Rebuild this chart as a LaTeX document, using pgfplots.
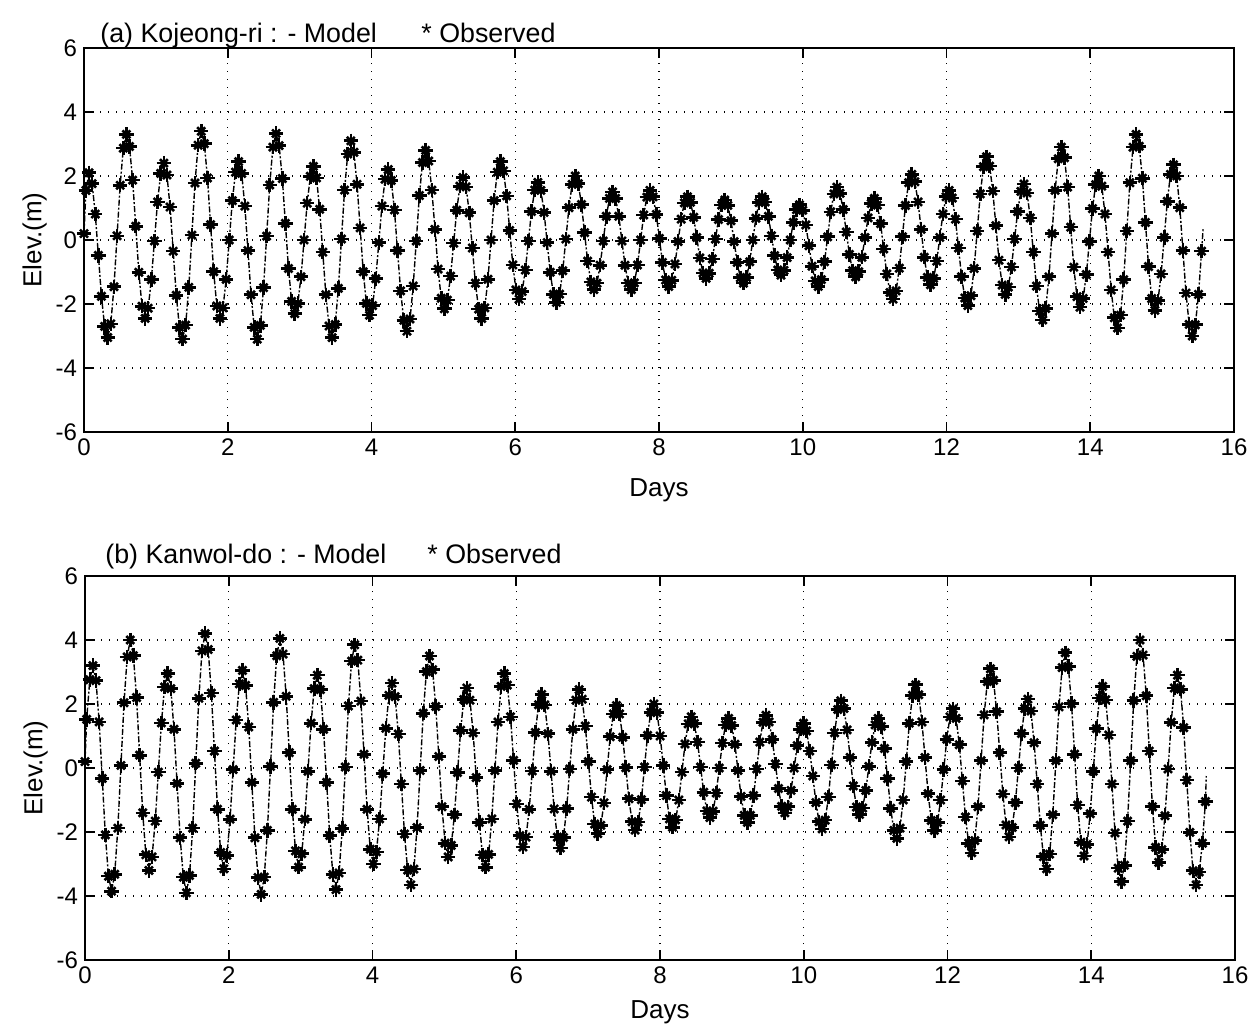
\documentclass[border=0pt]{standalone}
\usepackage{fontspec}
\setmainfont{Liberation Sans}
\usepackage{pgfplots}
\pgfplotsset{compat=1.18}
\usepackage{pgfplotstable}

\pgfplotstableread[row sep=\\]{
t h\\
0.000 0.20\\ 0.027 1.55\\
0.070 2.10\\ 0.113 1.76\\ 0.157 0.81\\ 0.200 -0.48\\ 0.243 -1.76\\ 0.287 -2.70\\
0.330 -3.05\\ 0.373 -2.62\\ 0.417 -1.46\\ 0.460 0.13\\ 0.503 1.71\\ 0.547 2.87\\
0.590 3.30\\ 0.633 2.92\\ 0.677 1.87\\ 0.720 0.43\\ 0.763 -1.01\\ 0.807 -2.07\\
0.850 -2.45\\ 0.893 -2.13\\ 0.937 -1.24\\ 0.980 -0.03\\ 1.023 1.19\\ 1.067 2.08\\
1.111 2.40\\ 1.154 2.03\\ 1.198 1.03\\ 1.241 -0.35\\ 1.284 -1.73\\ 1.328 -2.73\\
1.371 -3.10\\ 1.414 -2.66\\ 1.458 -1.48\\ 1.501 0.15\\ 1.544 1.78\\ 1.588 2.96\\
1.631 3.40\\ 1.674 3.01\\ 1.718 1.94\\ 1.761 0.48\\ 1.804 -0.99\\ 1.848 -2.06\\
1.891 -2.45\\ 1.934 -2.12\\ 1.978 -1.23\\ 2.021 0.00\\ 2.064 1.23\\ 2.108 2.12\\
2.151 2.45\\ 2.194 2.08\\ 2.238 1.06\\ 2.281 -0.33\\ 2.324 -1.71\\ 2.368 -2.73\\
2.411 -3.10\\ 2.454 -2.67\\ 2.498 -1.49\\ 2.541 0.12\\ 2.584 1.72\\ 2.628 2.90\\
2.672 3.33\\ 2.715 2.95\\ 2.759 1.92\\ 2.802 0.52\\ 2.845 -0.89\\ 2.889 -1.92\\
2.932 -2.30\\ 2.975 -1.99\\ 3.019 -1.15\\ 3.062 0.00\\ 3.105 1.15\\ 3.149 1.99\\
3.192 2.30\\ 3.235 1.94\\ 3.279 0.96\\ 3.322 -0.38\\ 3.365 -1.71\\ 3.409 -2.69\\
3.452 -3.05\\ 3.495 -2.64\\ 3.539 -1.51\\ 3.582 0.03\\ 3.625 1.56\\ 3.669 2.69\\
3.712 3.10\\ 3.755 2.74\\ 3.799 1.74\\ 3.842 0.38\\ 3.885 -0.99\\ 3.929 -1.98\\
3.972 -2.35\\ 4.015 -2.05\\ 4.059 -1.21\\ 4.102 -0.08\\ 4.145 1.06\\ 4.189 1.90\\
4.232 2.20\\ 4.275 1.86\\ 4.319 0.94\\ 4.362 -0.33\\ 4.405 -1.59\\ 4.449 -2.51\\
4.493 -2.85\\ 4.536 -2.47\\ 4.580 -1.44\\ 4.623 -0.03\\ 4.666 1.39\\ 4.710 2.42\\
4.753 2.80\\ 4.796 2.47\\ 4.840 1.56\\ 4.883 0.33\\ 4.926 -0.91\\ 4.970 -1.82\\
5.013 -2.15\\ 5.056 -1.88\\ 5.100 -1.13\\ 5.143 -0.10\\ 5.186 0.93\\ 5.230 1.68\\
5.273 1.95\\ 5.316 1.66\\ 5.360 0.85\\ 5.403 -0.25\\ 5.446 -1.35\\ 5.490 -2.16\\
5.533 -2.45\\ 5.576 -2.12\\ 5.620 -1.23\\ 5.663 0.00\\ 5.706 1.23\\ 5.750 2.12\\
5.793 2.45\\ 5.836 2.16\\ 5.880 1.38\\ 5.923 0.30\\ 5.966 -0.78\\ 6.010 -1.56\\
6.053 -1.85\\ 6.096 -1.61\\ 6.140 -0.94\\ 6.183 -0.03\\ 6.226 0.89\\ 6.270 1.56\\
6.314 1.80\\ 6.357 1.55\\ 6.401 0.86\\ 6.444 -0.08\\ 6.487 -1.01\\ 6.531 -1.70\\
6.574 -1.95\\ 6.617 -1.69\\ 6.661 -0.96\\ 6.704 0.03\\ 6.747 1.01\\ 6.791 1.74\\
6.834 2.00\\ 6.877 1.76\\ 6.921 1.11\\ 6.964 0.23\\ 7.007 -0.66\\ 7.051 -1.31\\
7.094 -1.55\\ 7.137 -1.35\\ 7.181 -0.79\\ 7.224 -0.03\\ 7.267 0.74\\ 7.311 1.30\\
7.354 1.50\\ 7.397 1.30\\ 7.441 0.74\\ 7.484 -0.03\\ 7.527 -0.79\\ 7.571 -1.35\\
7.614 -1.55\\ 7.657 -1.34\\ 7.701 -0.78\\ 7.744 0.00\\ 7.787 0.78\\ 7.831 1.34\\
7.875 1.55\\ 7.918 1.35\\ 7.962 0.80\\ 8.005 0.05\\ 8.048 -0.70\\ 8.092 -1.25\\
8.135 -1.45\\ 8.178 -1.26\\ 8.222 -0.75\\ 8.265 -0.05\\ 8.308 0.65\\ 8.352 1.16\\
8.395 1.35\\ 8.438 1.18\\ 8.482 0.71\\ 8.525 0.08\\ 8.568 -0.56\\ 8.612 -1.03\\
8.655 -1.20\\ 8.698 -1.04\\ 8.742 -0.59\\ 8.785 0.03\\ 8.828 0.64\\ 8.872 1.09\\
8.915 1.25\\ 8.958 1.08\\ 9.002 0.60\\ 9.045 -0.05\\ 9.088 -0.70\\ 9.132 -1.18\\
9.175 -1.35\\ 9.218 -1.17\\ 9.262 -0.68\\ 9.305 0.00\\ 9.348 0.68\\ 9.392 1.17\\
9.435 1.35\\ 9.478 1.19\\ 9.522 0.74\\ 9.565 0.13\\ 9.608 -0.49\\ 9.652 -0.94\\
9.696 -1.10\\ 9.739 -0.95\\ 9.783 -0.55\\ 9.826 0.00\\ 9.869 0.55\\ 9.913 0.95\\
9.956 1.10\\ 9.999 0.93\\ 10.043 0.47\\ 10.086 -0.18\\ 10.129 -0.82\\ 10.173 -1.28\\
10.216 -1.45\\ 10.259 -1.24\\ 10.303 -0.68\\ 10.346 0.10\\ 10.389 0.88\\ 10.433 1.44\\
10.476 1.65\\ 10.519 1.46\\ 10.563 0.95\\ 10.606 0.25\\ 10.649 -0.45\\ 10.693 -0.96\\
10.736 -1.15\\ 10.779 -0.99\\ 10.823 -0.54\\ 10.866 0.08\\ 10.909 0.69\\ 10.953 1.14\\
10.996 1.30\\ 11.039 1.09\\ 11.083 0.51\\ 11.126 -0.28\\ 11.169 -1.06\\ 11.213 -1.64\\
11.256 -1.85\\ 11.299 -1.59\\ 11.343 -0.88\\ 11.386 0.10\\ 11.429 1.08\\ 11.473 1.79\\
11.517 2.05\\ 11.560 1.82\\ 11.604 1.19\\ 11.647 0.33\\ 11.690 -0.54\\ 11.734 -1.17\\
11.777 -1.40\\ 11.820 -1.20\\ 11.864 -0.66\\ 11.907 0.08\\ 11.950 0.81\\ 11.994 1.35\\
12.037 1.55\\ 12.080 1.31\\ 12.124 0.65\\ 12.167 -0.25\\ 12.210 -1.15\\ 12.254 -1.81\\
12.297 -2.05\\ 12.340 -1.74\\ 12.384 -0.89\\ 12.427 0.28\\ 12.470 1.44\\ 12.514 2.29\\
12.557 2.60\\ 12.600 2.31\\ 12.644 1.53\\ 12.687 0.45\\ 12.730 -0.63\\ 12.774 -1.41\\
12.817 -1.70\\ 12.860 -1.47\\ 12.904 -0.84\\ 12.947 0.03\\ 12.990 0.89\\ 13.034 1.52\\
13.078 1.75\\ 13.121 1.47\\ 13.165 0.69\\ 13.208 -0.38\\ 13.251 -1.44\\ 13.295 -2.22\\
13.338 -2.50\\ 13.381 -2.14\\ 13.425 -1.15\\ 13.468 0.20\\ 13.511 1.55\\ 13.555 2.54\\
13.598 2.90\\ 13.641 2.57\\ 13.685 1.65\\ 13.728 0.40\\ 13.771 -0.85\\ 13.815 -1.77\\
13.858 -2.10\\ 13.901 -1.83\\ 13.945 -1.08\\ 13.988 -0.05\\ 14.031 0.98\\ 14.075 1.73\\
14.118 2.00\\ 14.161 1.68\\ 14.205 0.81\\ 14.248 -0.38\\ 14.291 -1.56\\ 14.335 -2.43\\
14.378 -2.75\\ 14.421 -2.35\\ 14.465 -1.24\\ 14.508 0.28\\ 14.551 1.79\\ 14.595 2.90\\
14.638 3.30\\ 14.681 2.93\\ 14.725 1.93\\ 14.768 0.55\\ 14.811 -0.83\\ 14.855 -1.83\\
14.899 -2.20\\ 14.942 -1.90\\ 14.986 -1.06\\ 15.029 0.08\\ 15.072 1.21\\ 15.116 2.05\\
15.159 2.35\\ 15.202 2.00\\ 15.246 1.01\\ 15.289 -0.33\\ 15.332 -1.66\\ 15.376 -2.64\\
15.419 -3.00\\ 15.462 -2.65\\ 15.506 -1.70\\ 15.549 -0.35\\
}\dataA

\pgfplotstableread[row sep=\\]{
t h\\
0.000 0.20\\ 0.023 1.52\\ 0.067 2.76\\
0.110 3.20\\ 0.153 2.73\\ 0.197 1.44\\ 0.240 -0.33\\ 0.283 -2.09\\ 0.327 -3.38\\
0.370 -3.85\\ 0.413 -3.32\\ 0.457 -1.88\\ 0.500 0.08\\ 0.543 2.04\\ 0.587 3.47\\
0.630 4.00\\ 0.673 3.51\\ 0.717 2.20\\ 0.760 0.40\\ 0.803 -1.40\\ 0.847 -2.71\\
0.890 -3.20\\ 0.933 -2.78\\ 0.977 -1.66\\ 1.020 -0.13\\ 1.063 1.41\\ 1.107 2.53\\
1.151 2.95\\ 1.194 2.48\\ 1.238 1.21\\ 1.281 -0.48\\ 1.324 -2.18\\ 1.368 -3.41\\
1.411 -3.90\\ 1.454 -3.36\\ 1.498 -1.88\\ 1.541 0.15\\ 1.584 2.18\\ 1.628 3.66\\
1.671 4.20\\ 1.714 3.70\\ 1.758 2.34\\ 1.801 0.53\\ 1.844 -1.29\\ 1.888 -2.64\\
1.931 -3.15\\ 1.974 -2.73\\ 2.018 -1.60\\ 2.061 -0.05\\ 2.104 1.50\\ 2.148 2.63\\
2.191 3.05\\ 2.234 2.58\\ 2.278 1.28\\ 2.321 -0.45\\ 2.364 -2.18\\ 2.408 -3.42\\
2.451 -3.95\\ 2.494 -3.41\\ 2.538 -1.95\\ 2.581 0.05\\ 2.624 2.05\\ 2.668 3.51\\
2.712 4.05\\ 2.755 3.56\\ 2.799 2.24\\ 2.842 0.48\\ 2.885 -1.29\\ 2.929 -2.59\\
2.972 -3.10\\ 3.015 -2.68\\ 3.059 -1.60\\ 3.102 -0.10\\ 3.145 1.40\\ 3.189 2.48\\
3.232 2.90\\ 3.275 2.45\\ 3.319 1.21\\ 3.362 -0.45\\ 3.405 -2.11\\ 3.449 -3.33\\
3.492 -3.80\\ 3.535 -3.28\\ 3.579 -1.89\\ 3.622 0.03\\ 3.665 1.94\\ 3.709 3.34\\
3.752 3.85\\ 3.795 3.37\\ 3.839 2.09\\ 3.882 0.43\\ 3.925 -1.29\\ 3.969 -2.54\\
4.012 -3.00\\ 4.055 -2.62\\ 4.099 -1.59\\ 4.142 -0.18\\ 4.185 1.24\\ 4.229 2.27\\
4.272 2.65\\ 4.315 2.23\\ 4.359 1.06\\ 4.402 -0.50\\ 4.445 -2.06\\ 4.489 -3.19\\
4.533 -3.65\\ 4.576 -3.16\\ 4.620 -1.86\\ 4.663 -0.08\\ 4.706 1.71\\ 4.750 3.01\\
4.793 3.50\\ 4.836 3.07\\ 4.880 1.92\\ 4.923 0.36\\ 4.966 -1.21\\ 5.010 -2.35\\
5.053 -2.78\\ 5.096 -2.42\\ 5.140 -1.46\\ 5.183 -0.14\\ 5.226 1.18\\ 5.270 2.14\\
5.313 2.50\\ 5.356 2.12\\ 5.400 1.10\\ 5.443 -0.30\\ 5.486 -1.70\\ 5.530 -2.72\\
5.573 -3.10\\ 5.616 -2.70\\ 5.660 -1.59\\ 5.703 -0.08\\ 5.746 1.44\\ 5.790 2.55\\
5.833 2.95\\ 5.876 2.59\\ 5.920 1.60\\ 5.963 0.24\\ 6.006 -1.12\\ 6.050 -2.11\\
6.093 -2.47\\ 6.136 -2.16\\ 6.180 -1.29\\ 6.223 -0.09\\ 6.266 1.11\\ 6.310 1.98\\
6.354 2.30\\ 6.397 1.97\\ 6.441 1.07\\ 6.484 -0.10\\ 6.527 -1.28\\ 6.571 -2.16\\
6.614 -2.50\\ 6.657 -2.17\\ 6.701 -1.27\\ 6.744 -0.03\\ 6.787 1.21\\ 6.831 2.12\\
6.874 2.45\\ 6.917 2.15\\ 6.961 1.31\\ 7.004 0.20\\ 7.047 -0.91\\ 7.091 -1.75\\
7.134 -2.05\\ 7.177 -1.79\\ 7.221 -1.09\\ 7.264 -0.05\\ 7.307 0.98\\ 7.351 1.69\\
7.394 1.95\\ 7.437 1.69\\ 7.481 0.96\\ 7.524 0.01\\ 7.567 -0.96\\ 7.611 -1.68\\
7.654 -1.94\\ 7.697 -1.69\\ 7.741 -0.99\\ 7.784 0.03\\ 7.827 1.02\\ 7.871 1.74\\
7.915 2.00\\ 7.958 1.73\\ 8.002 1.00\\ 8.045 0.08\\ 8.088 -0.86\\ 8.132 -1.59\\
8.175 -1.85\\ 8.218 -1.62\\ 8.262 -1.00\\ 8.305 -0.13\\ 8.348 0.75\\ 8.392 1.38\\
8.435 1.60\\ 8.478 1.39\\ 8.522 0.81\\ 8.565 0.03\\ 8.608 -0.76\\ 8.652 -1.34\\
8.695 -1.55\\ 8.738 -1.35\\ 8.782 -0.78\\ 8.825 0.00\\ 8.868 0.78\\ 8.912 1.35\\
8.955 1.55\\ 8.998 1.33\\ 9.042 0.74\\ 9.085 -0.08\\ 9.128 -0.89\\ 9.172 -1.48\\
9.215 -1.70\\ 9.258 -1.48\\ 9.302 -0.86\\ 9.345 -0.03\\ 9.388 0.81\\ 9.432 1.43\\
9.475 1.65\\ 9.518 1.44\\ 9.562 0.89\\ 9.605 0.13\\ 9.648 -0.64\\ 9.692 -1.20\\
9.736 -1.40\\ 9.779 -1.21\\ 9.823 -0.70\\ 9.866 0.00\\ 9.909 0.70\\ 9.953 1.21\\
9.996 1.40\\ 10.039 1.16\\ 10.083 0.53\\ 10.126 -0.25\\ 10.169 -1.08\\ 10.213 -1.68\\
10.256 -1.90\\ 10.299 -1.63\\ 10.343 -0.90\\ 10.386 0.10\\ 10.429 1.10\\ 10.473 1.83\\
10.516 2.10\\ 10.559 1.86\\ 10.603 1.19\\ 10.646 0.33\\ 10.689 -0.56\\ 10.733 -1.22\\
10.776 -1.45\\ 10.819 -1.25\\ 10.863 -0.70\\ 10.906 0.05\\ 10.949 0.80\\ 10.993 1.35\\
11.036 1.55\\ 11.079 1.30\\ 11.123 0.61\\ 11.166 -0.33\\ 11.209 -1.26\\ 11.253 -1.95\\
11.296 -2.20\\ 11.339 -1.88\\ 11.383 -1.00\\ 11.426 0.20\\ 11.469 1.40\\ 11.513 2.27\\
11.557 2.60\\ 11.600 2.29\\ 11.644 1.44\\ 11.687 0.33\\ 11.730 -0.80\\ 11.774 -1.64\\
11.817 -1.95\\ 11.860 -1.70\\ 11.904 -1.00\\ 11.947 -0.05\\ 11.990 0.90\\ 12.034 1.60\\
12.077 1.85\\ 12.120 1.55\\ 12.164 0.73\\ 12.207 -0.40\\ 12.250 -1.53\\ 12.294 -2.35\\
12.337 -2.65\\ 12.380 -2.27\\ 12.424 -1.21\\ 12.467 0.23\\ 12.510 1.66\\ 12.554 2.70\\
12.597 3.10\\ 12.640 2.74\\ 12.684 1.76\\ 12.727 0.48\\ 12.770 -0.81\\ 12.814 -1.78\\
12.857 -2.15\\ 12.900 -1.86\\ 12.944 -1.08\\ 12.987 0.00\\ 13.030 1.08\\ 13.074 1.86\\
13.118 2.15\\ 13.161 1.78\\ 13.205 0.79\\ 13.248 -0.50\\ 13.291 -1.79\\ 13.335 -2.77\\
13.378 -3.15\\ 13.421 -2.69\\ 13.465 -1.46\\ 13.508 0.23\\ 13.551 1.91\\ 13.595 3.14\\
13.638 3.60\\ 13.681 3.17\\ 13.725 2.01\\ 13.768 0.43\\ 13.811 -1.16\\ 13.855 -2.32\\
13.898 -2.75\\ 13.941 -2.39\\ 13.985 -1.43\\ 14.028 -0.10\\ 14.071 1.23\\ 14.115 2.19\\
14.158 2.55\\ 14.201 2.13\\ 14.245 1.03\\ 14.288 -0.50\\ 14.331 -2.03\\ 14.375 -3.13\\
14.418 -3.55\\ 14.461 -3.04\\ 14.505 -1.66\\ 14.548 0.23\\ 14.591 2.11\\ 14.635 3.49\\
14.678 4.00\\ 14.721 3.53\\ 14.765 2.26\\ 14.808 0.53\\ 14.851 -1.21\\ 14.895 -2.48\\
14.939 -2.95\\ 14.982 -2.55\\ 15.026 -1.49\\ 15.069 -0.03\\ 15.112 1.43\\ 15.156 2.50\\
15.199 2.90\\ 15.242 2.46\\ 15.286 1.26\\ 15.329 -0.38\\ 15.372 -2.01\\ 15.416 -3.21\\
15.459 -3.65\\ 15.502 -3.25\\ 15.546 -2.35\\ 15.589 -1.05\\
}\dataB

\pgfplotsset{
  tideaxis/.style={
    scale only axis, width=575pt, height=192pt,
    xmin=0, xmax=16, ymin=-6, ymax=6,
    xtick={0,2,...,16}, ytick={-6,-4,...,6},
    tick align=inside, major tick length=5pt,
    axis line style={line width=0.9pt, black},
    tick style={line width=0.8pt, black},
    grid=major,
    major grid style={line width=0.6pt, black, dash pattern=on 0.6pt off 3.4pt},
    tick label style={font=\fontsize{12}{14}\selectfont},
    /pgf/number format/assume math mode=true,
    xlabel={Days}, ylabel={Elev.(m)},
    every axis x label/.style={at={(axis description cs:0.5,-0.12)}, anchor=north, inner sep=0pt, font=\fontsize{13}{15}\selectfont},
    every axis y label/.style={at={(axis description cs:-0.032,0.5)}, rotate=90, anchor=south, inner sep=0pt, font=\fontsize{13}{15}\selectfont},
    clip=false,
  },
  modelline/.style={black, line width=0.7pt, dash pattern=on 3pt off 1pt on 1pt off 1pt},
  obsplus/.style={only marks, mark=+, mark size=3.6pt, mark options={line width=1.3pt, black}},
  obsx/.style={only marks, mark=x, mark size=2.8pt, mark options={line width=1.3pt, black}},
}

\begin{document}
\begin{tikzpicture}
\path[use as bounding box] (0pt,0pt) rectangle (628.5pt,-513pt);

\begin{axis}[tideaxis, at={(42pt,-216pt)}, anchor=south west]
  \addplot[modelline] table[x=t, y=h] {\dataA};
  \addplot[modelline] coordinates {(15.549,-0.35) (15.57,0.35)};
  \addplot[obsplus] table[x=t, y=h] {\dataA};
  \addplot[obsx] table[x=t, y=h] {\dataA};
\end{axis}

\begin{axis}[tideaxis, at={(42.5pt,-480pt)}, anchor=south west,
  every axis x label/.style={at={(axis description cs:0.5,-0.105)}, anchor=north, inner sep=0pt, font=\fontsize{13}{15}\selectfont}]
  \addplot[modelline] table[x=t, y=h] {\dataB};
  \addplot[modelline] coordinates {(15.589,-1.05) (15.60,-0.25)};
  \addplot[obsplus] table[x=t, y=h] {\dataB};
  \addplot[obsx] table[x=t, y=h] {\dataB};
\end{axis}

\node[anchor=base west, inner sep=0pt, font=\fontsize{13.4}{15}\selectfont] at (50pt,-21.5pt) {(a) Kojeong-ri : - Model};
\node[anchor=base west, inner sep=0pt, font=\fontsize{13.4}{15}\selectfont] at (210.5pt,-21.5pt) {* Observed};
\node[anchor=base west, inner sep=0pt, font=\fontsize{13.4}{15}\selectfont] at (52.5pt,-281.5pt) {(b) Kanwol-do : - Model};
\node[anchor=base west, inner sep=0pt, font=\fontsize{13.4}{15}\selectfont] at (213.5pt,-281.5pt) {* Observed};
\end{tikzpicture}
\end{document}
